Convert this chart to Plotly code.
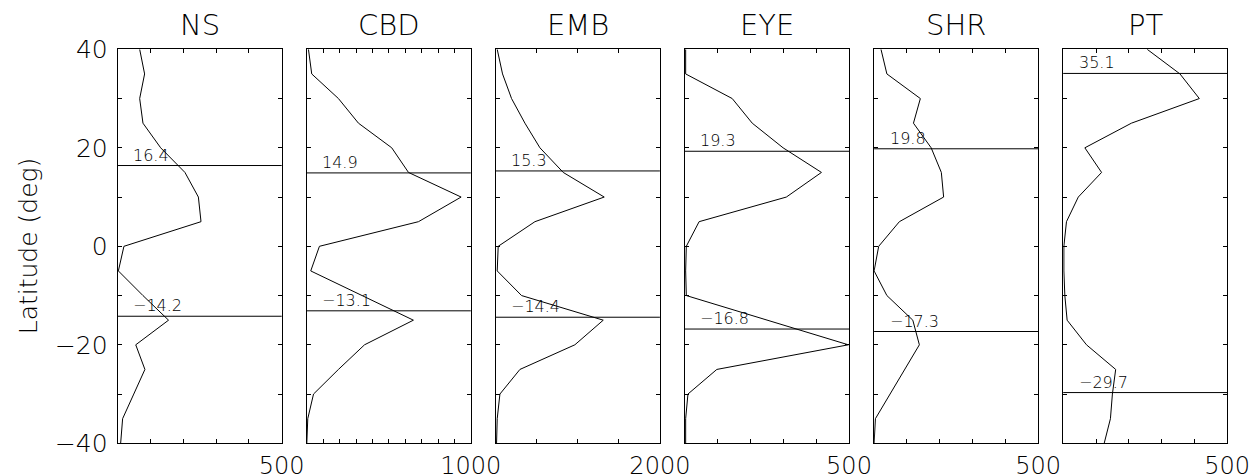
import plotly.graph_objects as go

# ---- data ----
lat = [40, 35, 30, 25, 20, 15, 10, 5, 0, -5, -10, -15, -20, -25, -30, -35, -40]
panel_names = ["NS", "CBD", "EMB", "EYE", "SHR", "PT"]
ns = [67, 82, 67, 77, 131, 205, 246, 254, 19, 2, 77, 155, 55, 83, 49, 15, 9]
cbd = [10, 30, 193, 315, 518, 620, 941, 681, 77, 24, 337, 650, 352, 193, 41, 6, 0]
emb = [16, 81, 191, 354, 537, 821, 1321, 476, 28, 16, 313, 1309, 963, 293, 49, 16, 8]
eye = [2, 2, 144, 205, 299, 416, 309, 43, 4, 2, 4, 250, 498, 97, 9, 2, 2]
shr = [21, 39, 141, 120, 174, 205, 212, 77, 14, 0, 39, 118, 138, 94, 49, 4, 0]
pt = [256, 356, 415, 208, 66, 117, 46, 10, 2, 2, 5, 12, 71, 160, 150, 144, 125]
xmax = [500, 1000, 2000, 500, 500, 500]
xstep = [100, 100, 500, 100, 100, 100]
north_lat = [16.4, 14.9, 15.3, 19.3, 19.8, 35.1]
south_lat = [-14.2, -13.1, -14.4, -16.8, -17.3, -29.7]
ytick_vals = [40, 30, 20, 10, 0, -10, -20, -30, -40]
ytick_text = ["40", "", "20", "", "0", "", "\u221220", "", "\u221240"]

series = [ns, cbd, emb, eye, shr, pt]

# page body has an 8px offset; figure sized to fit the 1258x476 window
OFF = 8
W, H = 1250, 468
FONT = "DejaVu Sans"
WEIGHT = 200
left0, pw, gap = 117.7, 164.0, 25.1   # screen px
top_px, bot_px = 49.3, 443.3          # screen px
ydom = [1 - (bot_px - OFF) / H, 1 - (top_px - OFF) / H]


def fnt(size):
    return dict(family=FONT, size=size, color="black", weight=WEIGHT)


fig = go.Figure()
for i, (name, vals) in enumerate(zip(panel_names, series)):
    ax = "" if i == 0 else str(i + 1)
    xl = left0 + i * (pw + gap) - OFF
    xdom = [xl / W, (xl + pw) / W]
    fig.add_trace(go.Scatter(x=vals, y=lat, mode="lines",
                             line=dict(color="black", width=1),
                             xaxis="x" + ax, yaxis="y" + ax,
                             showlegend=False, hoverinfo="skip"))
    tv = list(range(0, xmax[i] + 1, xstep[i]))
    tt = [""] * (len(tv) - 1) + [str(xmax[i])]
    fig.update_layout(**{
        "xaxis" + ax: dict(domain=xdom, range=[0, xmax[i]], anchor="y" + ax,
                           tickmode="array", tickvals=tv, ticktext=tt,
                           ticks="inside", ticklen=4, tickcolor="black",
                           showline=True, linecolor="black", linewidth=1,
                           mirror="ticks", showgrid=False, zeroline=False,
                           automargin=False, ticklabelstandoff=1,
                           tickfont=fnt(24)),
        "yaxis" + ax: dict(domain=ydom, range=[-40, 40], anchor="x" + ax,
                           tickmode="array", tickvals=ytick_vals,
                           ticktext=ytick_text if i == 0 else [""] * len(ytick_vals),
                           ticks="inside", ticklen=4, tickcolor="black",
                           showline=True, linecolor="black", linewidth=1,
                           mirror="ticks", showgrid=False, zeroline=False,
                           automargin=False, ticklabelstandoff=4,
                           tickfont=fnt(25)),
    })
    for yv in (north_lat[i], south_lat[i]):
        fig.add_shape(type="line", xref="x" + ax + " domain", yref="y" + ax,
                      x0=0, x1=1, y0=yv, y1=yv,
                      line=dict(color="black", width=1))
        fig.add_annotation(x=xmax[i] * 0.1, y=yv, xref="x" + ax, yref="y" + ax,
                           text=f"{yv:.1f}".replace("-", "\u2212"),
                           showarrow=False, xanchor="left", yanchor="bottom",
                           xshift=-3, yshift=-1, font=fnt(16))
    fig.add_annotation(x=(xdom[0] + xdom[1]) / 2, y=1 - (25 - OFF) / H,
                       xref="paper", yref="paper",
                       text=name, showarrow=False, xanchor="center", yanchor="middle",
                       font=fnt(29))

fig.add_annotation(x=(28 - OFF) / W, y=(ydom[0] + ydom[1]) / 2, xref="paper", yref="paper",
                   text="Latitude (deg)", textangle=-90, showarrow=False,
                   xanchor="center", yanchor="middle", font=fnt(25))

fig.update_layout(width=W, height=H, margin=dict(l=0, r=0, t=0, b=0),
                  plot_bgcolor="white", paper_bgcolor="white")
fig.write_html("out.html")
